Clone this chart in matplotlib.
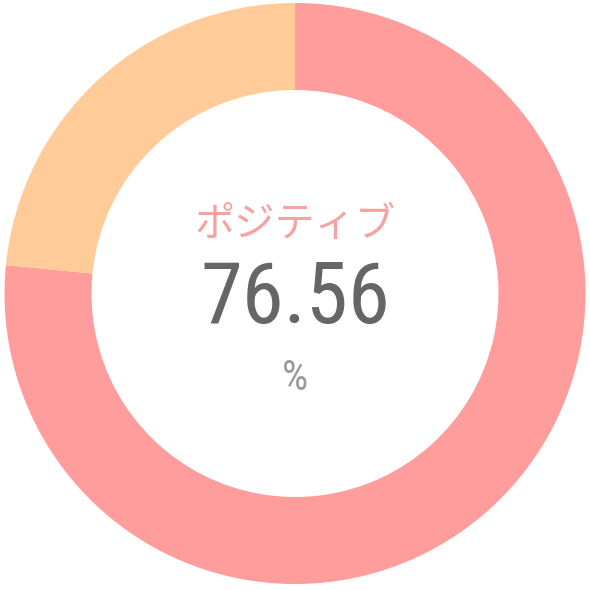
import matplotlib
matplotlib.use("Agg")
import matplotlib.pyplot as plt

labels = ["ポジティブ", "その他"]
values = [76.56, 23.44]
colors = ["#FF9C9C", "#FFCB99"]
center_label = "ポジティブ"
center_value = "76.56"
unit = "%"

fig = plt.figure(figsize=(5.9, 5.9), dpi=100)
ax = fig.add_axes([0, 0, 1, 1])
R = 290.5
ax.pie(values, colors=colors, startangle=90, counterclock=False, radius=1,
       wedgeprops=dict(width=87 / R, edgecolor="none"))
ax.set_xlim(-295 / R, 295 / R)
ax.set_ylim(-296.5 / R, 293.5 / R)
ax.set_aspect("equal")
ax.axis("off")

def ypos(p):
    return (293.5 - p) / R

num_family = ["Roboto Condensed", "DejaVu Sans"]

ax.text(0, ypos(224), center_label, ha="center", va="center", fontsize=29,
        color="#F4A3A3", family=["Noto Sans CJK JP", "DejaVu Sans"])
ax.text(0, ypos(299), center_value, ha="center", va="center", fontsize=61,
        color="#666666", family=num_family)
ax.text(0, ypos(378), unit, ha="center", va="center", fontsize=30,
        color="#9A9A9A", family=num_family)

fig.savefig("out.png", dpi=100, facecolor="white")
